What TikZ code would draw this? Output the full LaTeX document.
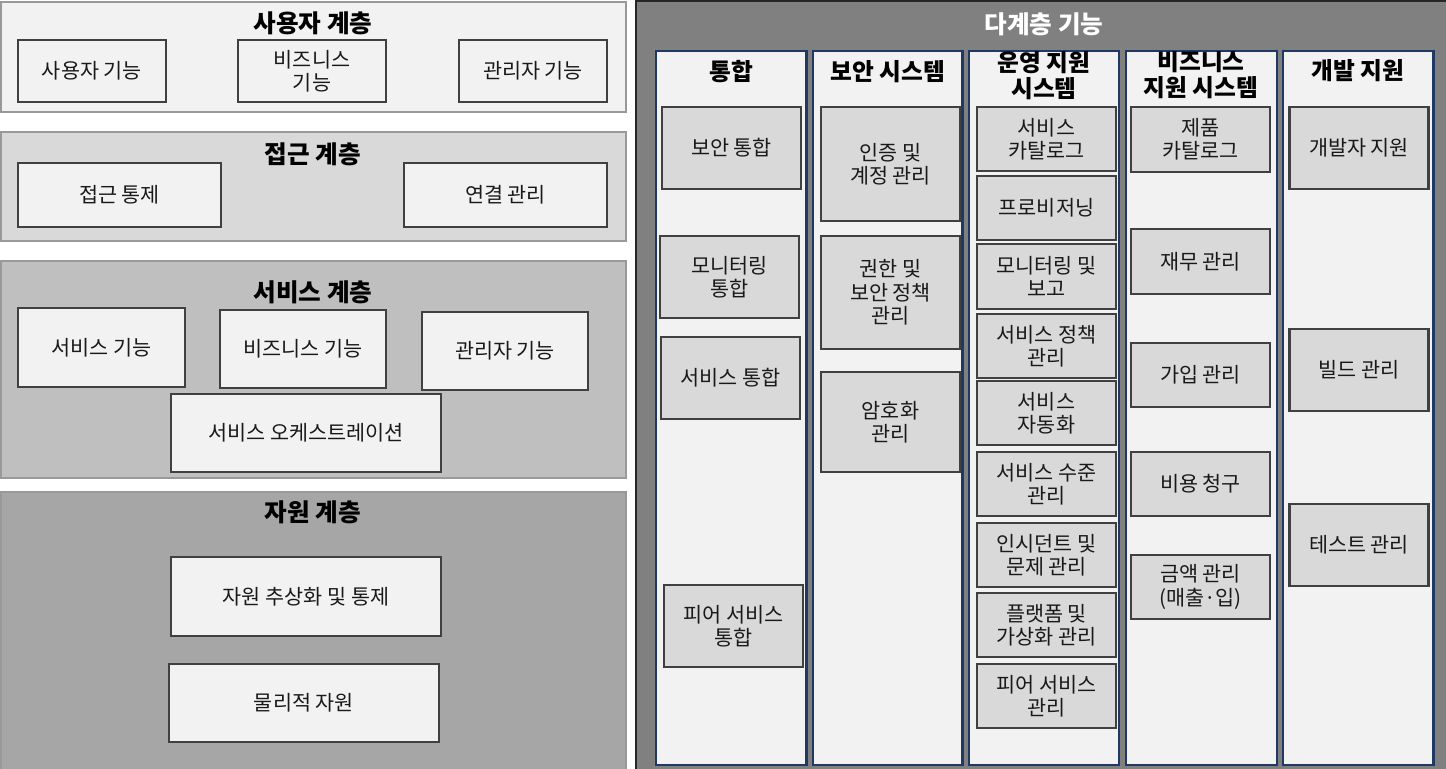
\documentclass[tikz,border=0pt]{standalone}
\usepackage{fontspec}
\setmainfont{Noto Sans CJK KR}
\usetikzlibrary{fit}
\definecolor{navy}{HTML}{1F3864}

\begin{document}
\begin{tikzpicture}[x=0.02cm,y=-0.02cm,
  layer/.style={draw=black!40,line width=1.1pt,inner sep=0pt},
  wbox/.style={draw=black!75,fill=black!5,line width=1.3pt,inner sep=0pt,align=center,text=black!90,font=\fontsize{11.8}{13.3}\selectfont},
  gbox/.style={wbox,fill=black!15,minimum width=2.78cm},
  col/.style={draw=navy,fill=black!5,line width=1.2pt,inner sep=0pt},
  ltitle/.style={font=\fontsize{14}{16}\selectfont\bfseries},
  ctitle/.style={align=center,font=\fontsize{13.5}{14.8}\selectfont\bfseries}]
\path[use as bounding box,fill=white] (0,0) rectangle (1446,768);

\node[layer,fill=black!5,fit={(1,2) (626,112)}] (l1) {};
\node[ltitle] (l1t) at (313,23) {사용자 계층};
\node[wbox,minimum width=2.96cm,minimum height=1.24cm] (l1a) at (92,71) {사용자 기능};
\node[wbox,minimum width=2.96cm,minimum height=1.24cm] (l1b) at (312,71) {비즈니스\\기능};
\node[wbox,minimum width=2.96cm,minimum height=1.24cm] (l1c) at (533,71) {관리자 기능};

\node[layer,fill=black!15,fit={(1,132) (626,241)}] (l2) {};
\node[ltitle] (l2t) at (313,154) {접근 계층};
\node[wbox,minimum width=4.06cm,minimum height=1.28cm] (l2a) at (119.5,195) {접근 통제};
\node[wbox,minimum width=4.06cm,minimum height=1.28cm] (l2b) at (505.5,195) {연결 관리};

\node[layer,fill=black!25,fit={(1,261) (626,478)}] (l3) {};
\node[ltitle] (l3t) at (313,292) {서비스 계층};
\node[wbox,minimum width=3.34cm,minimum height=1.58cm] (l3a) at (101.5,347.5) {서비스 기능};
\node[wbox,minimum width=3.32cm,minimum height=1.56cm] (l3b) at (303,349) {비즈니스 기능};
\node[wbox,minimum width=3.32cm,minimum height=1.56cm] (l3c) at (505,351) {관리자 기능};
\node[wbox,minimum width=5.4cm,minimum height=1.56cm] (l3d) at (306,433) {서비스 오케스트레이션};

\node[layer,fill=black!35,fit={(1,492) (626,772)}] (l4) {};
\node[ltitle] (l4t) at (313,512) {자원 계층};
\node[wbox,minimum width=5.4cm,minimum height=1.58cm] (l4a) at (306,596.5) {자원 추상화 및 통제};
\node[wbox,minimum width=5.4cm,minimum height=1.56cm] (l4b) at (304,703) {물리적 자원};

\node[draw=black!85,fill=black!50,line width=1.3pt,inner sep=0pt,fit={(636,1) (1452,772)}] (m) {};
\node[ltitle,text=white] (mt) at (1044,24) {다계층 기능};

\node[col,fit={(656,51) (806.5,765)}] (c1) {};
\node[col,fit={(813,51) (962.5,765)}] (c2) {};
\node[col,fit={(969.3,51) (1119.2,765)}] (c3) {};
\node[col,fit={(1126,51) (1276.7,765)}] (c4) {};
\node[col,fit={(1283.3,51) (1433.5,765)}] (c5) {};

\node[ctitle] (c1t) at (731,72) {통합};
\node[ctitle] (c2t) at (888,72) {보안 시스템};
\begin{scope}
\clip (969.3,51) rectangle (1119.2,765);
\node[ctitle] (c3t) at (1044,76) {운영 지원\\시스템};
\end{scope}
\begin{scope}
\clip (1126,51) rectangle (1276.7,765);
\node[ctitle] (c4t) at (1201,75) {비즈니스\\지원 시스템};
\end{scope}
\node[ctitle] (c5t) at (1358,71) {개발 지원};

\node[gbox,minimum height=1.64cm] (c1a) at (731.5,148) {보안 통합};
\node[gbox,minimum height=1.64cm] (c1b) at (729.5,277) {모니터링\\통합};
\node[gbox,minimum height=1.64cm] (c1c) at (730.5,378) {서비스 통합};
\node[gbox,minimum height=1.64cm] (c1d) at (733.5,626) {피어 서비스\\통합};

\node[gbox,minimum height=2.28cm] (c2a) at (890.5,164) {인증 및\\계정 관리};
\node[gbox,minimum height=2.26cm] (c2b) at (890.5,292.5) {권한 및\\보안 정책\\관리};
\node[gbox,minimum height=2cm] (c2c) at (890.5,422) {암호화\\관리};

\node[gbox,minimum height=1.28cm] (c3a) at (1046.5,139) {서비스\\카탈로그};
\node[gbox,minimum height=1.28cm] (c3b) at (1046.5,208) {프로비저닝};
\node[gbox,minimum height=1.3cm] (c3c) at (1046.5,276.5) {모니터링 및\\보고};
\node[gbox,minimum height=1.28cm] (c3d) at (1046.5,346) {서비스 정책\\관리};
\node[gbox,minimum height=1.28cm] (c3e) at (1046.5,413) {서비스\\자동화};
\node[gbox,minimum height=1.28cm] (c3f) at (1046.5,484) {서비스 수준\\관리};
\node[gbox,minimum height=1.28cm] (c3g) at (1046.5,555) {인시던트 및\\문제 관리};
\node[gbox,minimum height=1.28cm] (c3h) at (1046.5,625) {플랫폼 및\\가상화 관리};
\node[gbox,minimum height=1.28cm] (c3i) at (1046.5,696) {피어 서비스\\관리};

\node[gbox,minimum height=1.3cm] (c4a) at (1200.5,139.5) {제품\\카탈로그};
\node[gbox,minimum height=1.3cm] (c4b) at (1200.5,261.5) {재무 관리};
\node[gbox,minimum height=1.28cm] (c4c) at (1200.5,375) {가입 관리};
\node[gbox,minimum height=1.28cm] (c4d) at (1200.5,484) {비용 청구};
\node[gbox,minimum height=1.28cm] (c4e) at (1200.5,587) {금액 관리\\(매출·입)};

\node[gbox,minimum height=1.64cm] (c5a) at (1359,148) {개발자 지원};
\node[gbox,minimum height=1.64cm] (c5b) at (1359,370) {빌드 관리};
\node[gbox,minimum height=1.64cm] (c5c) at (1359,545) {테스트 관리};
\end{tikzpicture}
\end{document}
